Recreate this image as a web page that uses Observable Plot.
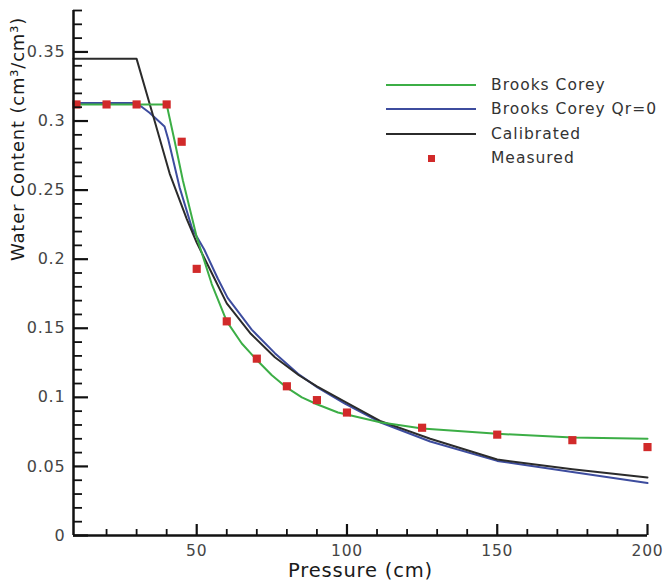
<!DOCTYPE html>
<html>
<head>
<meta charset="utf-8">
<script src="https://cdn.jsdelivr.net/npm/d3@7"></script>
<script src="https://cdn.jsdelivr.net/npm/@observablehq/plot@0.6"></script>
<style>
  body { margin: 0; background: #fff; font-family: "DejaVu Sans", sans-serif; }
  #wrap { position: relative; width: 669px; height: 585px; }
  #legend { position: absolute; left: 385px; top: 73px; font-size: 15.5px; letter-spacing: 1px; color: #333; white-space: nowrap; }
  .row { display: flex; align-items: center; height: 24.3px; }
  .swatch { display: inline-block; width: 92px; height: 10px; margin-right: 14px; position: relative; }
  .swatch .ln { position: absolute; left: 1px; right: 1px; top: 4px; height: 2px; }
  .swatch .sq { position: absolute; left: 43px; top: 2px; width: 7px; height: 7px; }
</style>
</head>
<body>
<div id="wrap">
  <div id="chart"></div>
  <div id="legend"></div>
</div>
<script>
// ---- data ----
const seriesNames = ["Brooks Corey", "Brooks Corey Qr=0", "Calibrated", "Measured"];
const seriesColors = ["#3cae46", "#3d4c9e", "#2b2b2b", "#d12a2a"];

const measuredX = [10, 20, 30, 40, 45, 50, 60, 70, 80, 90, 100, 125, 150, 175, 200];
const measuredY = [0.312, 0.312, 0.312, 0.312, 0.285, 0.193, 0.155, 0.128, 0.108, 0.098, 0.089, 0.078, 0.073, 0.069, 0.064];

const bcX = [9, 40, 42.7, 45.4, 50, 55, 60, 65, 70, 75, 80, 85, 90, 97, 101, 111, 125, 150, 175, 200];
const bcY = [0.312, 0.312, 0.285, 0.257, 0.216, 0.182, 0.155, 0.139, 0.127, 0.116, 0.107, 0.100, 0.095, 0.089, 0.087, 0.082, 0.0775, 0.0736, 0.071, 0.070];

const bc0X = [9, 30, 34.3, 39.3, 40.5, 44.3, 48.5, 52.5, 57, 60.3, 68.3, 76, 83.7, 90.3, 99.3, 111, 127.7, 150, 175, 200];
const bc0Y = [0.313, 0.313, 0.306, 0.296, 0.287, 0.252, 0.222, 0.207, 0.186, 0.172, 0.149, 0.132, 0.117, 0.107, 0.0955, 0.082, 0.068, 0.054, 0.046, 0.038];

const calX = [9, 30, 36, 41, 46.7, 50, 55, 60, 68, 76, 84, 90, 100, 111, 127.7, 150, 175, 200];
const calY = [0.345, 0.345, 0.300, 0.262, 0.229, 0.212, 0.190, 0.168, 0.146, 0.129, 0.116, 0.108, 0.096, 0.083, 0.070, 0.055, 0.048, 0.042];

const xDomain = [9, 200];
const yDomain = [0, 0.38];
const xTicks = [50, 100, 150, 200];
const xTickLabels = ["50", "100", "150", "200"];
const xMinorTicks = [20, 30, 40, 60, 70, 80, 90, 110, 120, 130, 140, 160, 170, 180, 190];
const yTicks = [0, 0.05, 0.1, 0.15, 0.2, 0.25, 0.3, 0.35];
const yTickLabels = ["0", "0.05", "0.1", "0.15", "0.2", "0.25", "0.3", "0.35"];
const yMinorTicks = [0.01, 0.02, 0.03, 0.04, 0.06, 0.07, 0.08, 0.09, 0.11, 0.12, 0.13, 0.14, 0.16, 0.17, 0.18, 0.19,
  0.21, 0.22, 0.23, 0.24, 0.26, 0.27, 0.28, 0.29, 0.31, 0.32, 0.33, 0.34, 0.36, 0.37, 0.38];
const xLabel = "Pressure (cm)";
const yLabel = "Water Content (cm³/cm³)";

// ---- layout ----
const W = 669, H = 585, mL = 73, mR = 22, mT = 10, mB = 50;
const plotW = W - mL - mR, plotH = H - mT - mB;

// ---- build tables ----
const toRows = (xs, ys) => xs.map((x, i) => ({x, y: ys[i]}));
const bcRows = toRows(bcX, bcY);
const bc0Rows = toRows(bc0X, bc0Y);
const calRows = toRows(calX, calY);
const measRows = toRows(measuredX, measuredY);

const fmtX = d => xTickLabels[xTicks.indexOf(d)];
const fmtY = d => yTickLabels[yTicks.indexOf(d)];

const chart = Plot.plot({
  width: W,
  height: H,
  marginLeft: mL,
  marginRight: mR,
  marginTop: mT,
  marginBottom: mB,
  style: {fontFamily: "DejaVu Sans, sans-serif", fontSize: "16px", letterSpacing: "0.8px"},
  x: {domain: xDomain},
  y: {domain: yDomain},
  marks: [
    // series
    Plot.line(bc0Rows, {x: "x", y: "y", stroke: seriesColors[1], strokeWidth: 2}),
    Plot.line(calRows, {x: "x", y: "y", stroke: seriesColors[2], strokeWidth: 2}),
    Plot.line(bcRows, {x: "x", y: "y", stroke: seriesColors[0], strokeWidth: 2}),
    Plot.dot(measRows, {x: "x", y: "y", symbol: "square", r: 4.6, fill: seriesColors[3]}),
    // tick labels
    Plot.axisY(yTicks, {tickSize: 0, tickPadding: 8, fill: "#454545", fontSize: 16, tickFormat: fmtY, label: null}),
    Plot.axisX(xTicks, {tickSize: 0, tickPadding: 9, fill: "#454545", fontSize: 15.5, tickFormat: fmtX, label: null}),
    // axis titles
    Plot.text([xLabel], {text: d => d, frameAnchor: "bottom", dy: 41, fontSize: 19.5, fill: "#1a1a1a"}),
    Plot.text([yLabel], {text: d => d, frameAnchor: "left", rotate: -90, dx: -55, dy: -12, fontSize: 18, fill: "#1a1a1a"}),
    // axis lines
    Plot.ruleX([xDomain[0]], {stroke: "#111", strokeWidth: 2.5}),
    Plot.ruleY([yDomain[0]], {stroke: "#111", strokeWidth: 2.5}),
    // inward ticks
    Plot.ruleY(yMinorTicks, {y: d => d, insetRight: plotW - 9, stroke: "#111", strokeWidth: 1.8}),
    Plot.ruleY(yTicks, {y: d => d, insetRight: plotW - 15, stroke: "#111", strokeWidth: 2.2}),
    Plot.ruleX(xMinorTicks, {x: d => d, insetTop: plotH - 6, stroke: "#111", strokeWidth: 1.8}),
    Plot.ruleX(xTicks, {x: d => d, insetTop: plotH - 11, stroke: "#111", strokeWidth: 2.2})
  ]
});
document.getElementById("chart").appendChild(chart);

// ---- legend ----
const legend = document.getElementById("legend");
seriesNames.forEach((name, i) => {
  const row = document.createElement("div");
  row.className = "row";
  const isPoint = name === "Measured";
  row.innerHTML = `<span class="swatch">${
    isPoint
      ? `<span class="sq" style="background:${seriesColors[i]}"></span>`
      : `<span class="ln" style="background:${seriesColors[i]}"></span>`
  }</span><span>${name}</span>`;
  legend.appendChild(row);
});
</script>
</body>
</html>
